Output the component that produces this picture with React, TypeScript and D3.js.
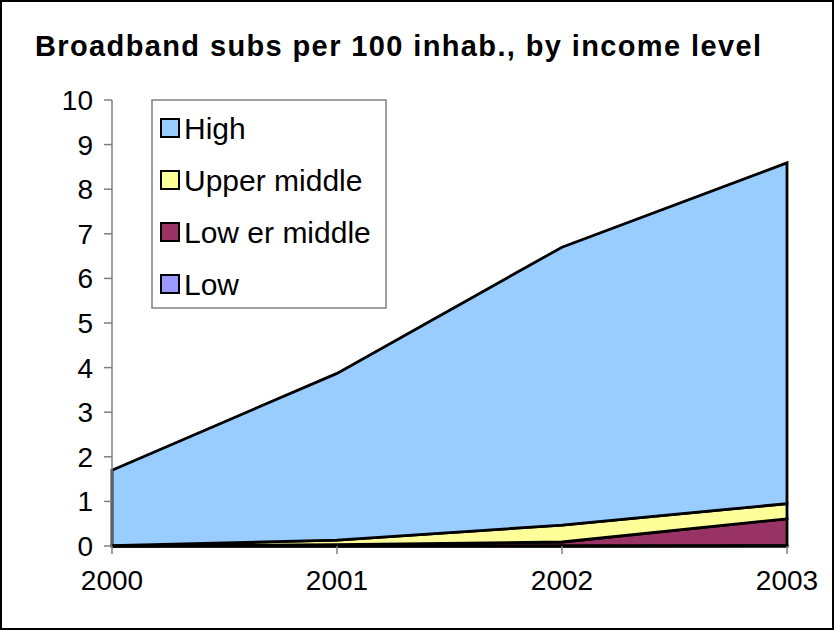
import React from "react";
import * as d3 from "d3";

const years = [2000, 2001, 2002, 2003];
const low = [0.0, 0.0, 0.0, 0.01];
const lowerMiddle = [0.0, 0.03, 0.09, 0.6];
const upperMiddle = [0.01, 0.1, 0.38, 0.34];
const high = [1.69, 3.74, 6.23, 7.64];
const yTicks = [0, 1, 2, 3, 4, 5, 6, 7, 8, 9, 10];

const seriesKeys = ["Low", "Lower middle", "Upper middle", "High"];
const seriesColors: Record<string, string> = {
  Low: "#9999FF",
  "Lower middle": "#993366",
  "Upper middle": "#FFFF99",
  High: "#99CCFF",
};
const legendItems = [
  { key: "High", label: "High" },
  { key: "Upper middle", label: "Upper middle" },
  { key: "Lower middle", label: "Low er middle" },
  { key: "Low", label: "Low" },
];

const W = 834;
const H = 630;
const FONT = "'Liberation Sans', Arial, Helvetica, sans-serif";

export default function App() {
  const rows = years.map((y, i) => ({
    year: y,
    Low: low[i],
    "Lower middle": lowerMiddle[i],
    "Upper middle": upperMiddle[i],
    High: high[i],
  }));
  const stacked = d3.stack<any>().keys(seriesKeys)(rows);

  const x = d3.scaleLinear().domain([2000, 2003]).range([112, 787]);
  const y = d3.scaleLinear().domain([0, 10]).range([546, 100]);

  const area = d3
    .area<any>()
    .x((d) => x(d.data.year))
    .y0((d) => y(d[0]))
    .y1((d) => y(d[1]));

  return (
    <svg
      width={W}
      height={H}
      style={{ position: "absolute", left: 0, top: 0, background: "#fff" }}
      fontFamily={FONT}
    >
      <rect x={1} y={1} width={W - 2} height={H - 2} fill="#fff" stroke="#000" strokeWidth={2} />
      <text
        x={35}
        y={56}
        fontSize={29}
        fontWeight="bold"
        textLength={726}
        lengthAdjust="spacing"
        fill="#000"
      >
        Broadband subs per 100 inhab., by income level
      </text>

      {stacked.map((s) => (
        <path
          key={s.key}
          d={area(s as any) + "Z"}
          fill={seriesColors[s.key]}
          stroke="#000"
          strokeWidth={2.8}
          strokeLinejoin="miter"
        />
      ))}

      {/* y axis */}
      <line x1={x(2000)} x2={x(2000)} y1={y(10)} y2={y(0)} stroke="#808080" strokeWidth={1.5} />
      {yTicks.map((t) => (
        <g key={t}>
          <line x1={x(2000) - 8} x2={x(2000)} y1={y(t)} y2={y(t)} stroke="#808080" strokeWidth={1.5} />
          <text x={93} y={y(t)} dy="0.36em" textAnchor="end" fontSize={28} fill="#000">
            {t}
          </text>
        </g>
      ))}

      {/* x axis */}
      <line x1={x(2000)} x2={x(2003)} y1={y(0)} y2={y(0)} stroke="#000" strokeWidth={2.8} />
      {years.map((yr) => (
        <g key={yr}>
          <line x1={x(yr)} x2={x(yr)} y1={y(0)} y2={y(0) + 8} stroke="#808080" strokeWidth={1.5} />
          <text x={x(yr)} y={590} textAnchor="middle" fontSize={28} fill="#000">
            {yr}
          </text>
        </g>
      ))}

      {/* legend */}
      <rect x={152} y={100} width={234} height={208} fill="#fff" stroke="#808080" strokeWidth={1.5} />
      {legendItems.map((it, i) => {
        const cy = 128 + i * 52;
        return (
          <g key={it.key}>
            <rect x={161} y={cy - 9} width={18} height={18} fill={seriesColors[it.key]} stroke="#000" strokeWidth={2} />
            <text x={184} y={cy} dy="0.36em" fontSize={30} fill="#000">
              {it.label}
            </text>
          </g>
        );
      })}
    </svg>
  );
}
